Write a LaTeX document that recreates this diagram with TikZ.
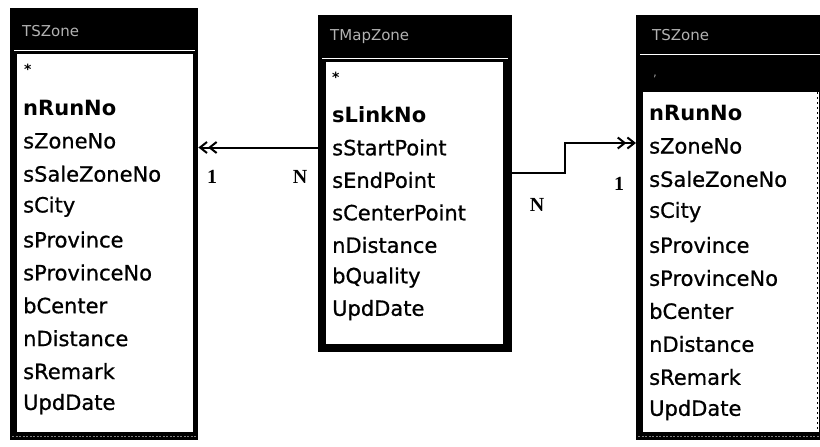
\documentclass[tikz,border=0pt]{standalone}
\usepackage{fontspec}
\setmainfont{DejaVu Sans}
\newfontfamily\rowfont[FakeBold=0.8]{DejaVu Sans}
\newfontfamily\labfont{Liberation Serif}
\usetikzlibrary{arrows.meta}
\tikzset{
  frame/.style={draw=none,fill=black,inner sep=0pt,anchor=north west},
  inner/.style={draw=none,fill=white,inner sep=0pt,anchor=north west},
  row/.style={anchor=west,inner sep=0pt,font=\rowfont\fontsize{21}{22}\selectfont},
  keyrow/.style={anchor=west,inner sep=0pt,font=\fontsize{21}{22}\selectfont\bfseries},
  star/.style={anchor=west,inner sep=0pt,font=\bfseries\fontsize{14}{14}\selectfont},
  ttl/.style={anchor=west,inner sep=0pt,text=black!30,font=\fontsize{15}{16}\selectfont},
  card/.style={anchor=center,inner sep=0pt,font=\labfont\fontsize{20}{22}\selectfont\bfseries},
  rel/.style={line width=2pt,-{Straight Barb[length=7pt,width=11pt,line width=2pt]Straight Barb[length=7pt,width=11pt,line width=2pt]}},
}
\begin{document}
\begin{tikzpicture}[x=1pt,y=-1pt]
\useasboundingbox[fill=white] (0,0) rectangle (820,447);
% ---------- left table ----------
\node[frame,minimum width=188pt,minimum height=432pt] (L) at (10,8) {};
\node[inner,minimum width=176pt,minimum height=378pt] (Li) at (17,54) {};
\draw[white,line width=0.6pt] (14,50) -- (195,50);
\draw[gray,line width=1pt,dash pattern=on 2pt off 1.5pt] (12,436) -- (196,436);
\node[ttl] (Lt) at (22,31) {TSZone};
\node[star] (L0) at (24,69) {*};
\foreach \t [count=\i from 0] in {nRunNo,sZoneNo,sSaleZoneNo,sCity,sProvince,sProvinceNo,bCenter,nDistance,sRemark,UpdDate}{
  \pgfmathsetmacro\yy{108+32.9*\i}
  \ifnum\i=0
    \node[keyrow] (L\i-r) at (23,\yy) {\t};
  \else
    \node[row] (L\i-r) at (23,\yy) {\t};
  \fi
}
% ---------- middle table ----------
\node[frame,minimum width=194pt,minimum height=337pt] (M) at (318,15) {};
\node[inner,minimum width=177pt,minimum height=282pt] (Mi) at (326,62) {};
\draw[white,line width=0.6pt] (322,58) -- (508,58);
\node[ttl] (Mt) at (330,37) {TMapZone};
\node[star] (M0) at (332,77) {*};
\foreach \t [count=\i from 0] in {sLinkNo,sStartPoint,sEndPoint,sCenterPoint,nDistance,bQuality,UpdDate}{
  \pgfmathsetmacro\yy{115+32.5*\i}
  \ifnum\i=0
    \node[keyrow] (M\i-r) at (332,\yy) {\t};
  \else
    \node[row] (M\i-r) at (332,\yy) {\t};
  \fi
}
% ---------- right table ----------
\node[frame,minimum width=184pt,minimum height=425pt] (R) at (636,15) {};
\node[inner,minimum width=174pt,minimum height=340pt] (Ri) at (643,92) {};
\draw[white,line width=0.6pt] (640,54) -- (820,54);
\draw[white,line width=3pt] (817,92) -- (817,432);
\draw[black,line width=1pt,dash pattern=on 2pt off 3pt] (817,92) -- (817,432);
\draw[gray,line width=1pt,dash pattern=on 2pt off 1.5pt] (638,436) -- (820,436);
\node[ttl] (Rt) at (652,35) {TSZone};
\node[anchor=center,inner sep=0pt,text=black!40,font=\fontsize{12}{12}\selectfont] (R0) at (655,76) {,};
\foreach \t [count=\i from 0] in {nRunNo,sZoneNo,sSaleZoneNo,sCity,sProvince,sProvinceNo,bCenter,nDistance,sRemark,UpdDate}{
  \pgfmathsetmacro\yy{113+33*\i}
  \ifnum\i=0
    \node[keyrow] (R\i-r) at (649,\yy) {\t};
  \else
    \node[row] (R\i-r) at (649,\yy) {\t};
  \fi
}
% ---------- connectors ----------
\coordinate (Ls) at (L.east |- M1-r);
\draw[rel] (M.west |- M1-r) -- (Ls);
\coordinate (Rs) at (R.west |- 0,143);
\coordinate (Ms) at (M.east |- 0,173);
\draw[rel] (Ms) -- (565,173) -- (565,143) -- (Rs);
% ---------- cardinalities ----------
\node[card] (c1) at (212,177) {1};
\node[card] (c2) at (300,177) {N};
\node[card] (c3) at (537,205) {N};
\node[card] (c4) at (619,184) {1};
\end{tikzpicture}
\end{document}
